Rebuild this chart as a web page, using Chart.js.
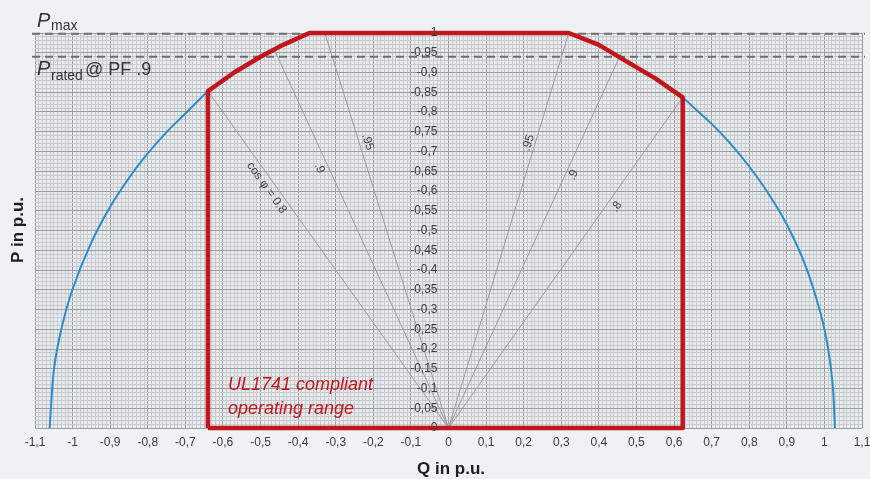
<!DOCTYPE html>
<html>
<head>
<meta charset="utf-8">
<script src="https://cdn.jsdelivr.net/npm/chart.js@4/dist/chart.umd.min.js"></script>
<style>
  html, body { margin: 0; padding: 0; background: #eef2f5; }
  #wrap { width: 870px; height: 479px; position: relative; }
</style>
</head>
<body>
<div id="wrap"><canvas id="pq"></canvas></div>
<script>
// --- tick labels ---
const xTickValues = [-1.1, -1, -0.9, -0.8, -0.7, -0.6, -0.5, -0.4, -0.3, -0.2, -0.1, 0, 0.1, 0.2, 0.3, 0.4, 0.5, 0.6, 0.7, 0.8, 0.9, 1, 1.1];
const xTickLabels = ['-1,1', '-1', '-0,9', '-0,8', '-0,7', '-0,6', '-0,5', '-0,4', '-0,3', '-0,2', '-0,1', '0', '0,1', '0,2', '0,3', '0,4', '0,5', '0,6', '0,7', '0,8', '0,9', '1', '1,1'];
const yTickValues = [0, 0.05, 0.1, 0.15, 0.2, 0.25, 0.3, 0.35, 0.4, 0.45, 0.5, 0.55, 0.6, 0.65, 0.7, 0.75, 0.8, 0.85, 0.9, 0.95, 1];
const yTickLabels = ['0', '-0,05', '-0,1', '-0,15', '-0,2', '-0,25', '-0,3', '-0,35', '-0,4', '-0,45', '-0,5', '-0,55', '-0,6', '-0,65', '-0,7', '-0,75', '-0,8', '-0,85', '-0,9', '-0,95', '1'];

// --- apparent power circle (blue) ---
const arcLeftQ = [-1.061, -1.05, -1.03, -1.0, -0.95, -0.9, -0.85, -0.8, -0.75, -0.7, -0.64];
const arcLeftP = [0, 0.145, 0.25, 0.352, 0.47, 0.56, 0.633, 0.695, 0.749, 0.796, 0.853];
const arcRightQ = [0.623, 0.7, 0.75, 0.8, 0.85, 0.9, 0.95, 0.99, 1.01, 1.022, 1.028];
const arcRightP = [0.837, 0.77, 0.72, 0.662, 0.595, 0.515, 0.41, 0.29, 0.2, 0.11, 0];

// --- UL1741 operating range (red) ---
const rangeQ = [-0.64, -0.64, -0.57, -0.5, -0.44, -0.37, 0.32, 0.4, 0.47, 0.55, 0.623, 0.623, -0.64];
const rangeP = [0, 0.853, 0.9, 0.94, 0.97, 1.0, 1.0, 0.97, 0.93, 0.885, 0.837, 0, 0];

// --- power factor lines, from origin to end point ---
const pfLabels = ['cos φ = 0.8', '.9', '.95', '.95', '.9', '.8'];
const pfEndQ = [-0.64, -0.462, -0.329, 0.32, 0.46, 0.623];
const pfEndP = [0.853, 0.955, 1.0, 1.0, 0.95, 0.837];
const pfLabelQ = [-0.484, -0.343, -0.215, 0.213, 0.332, 0.447];
const pfLabelP = [0.608, 0.658, 0.724, 0.722, 0.641, 0.56];

// --- horizontal limits ---
const pMax = 0.998;
const pRated = 0.94;
const limitQ = [-1.108, 1.108];

const toPts = (qs, ps) => qs.map((q, i) => ({x: q, y: ps[i]}));

const datasets = [];
datasets.push({
    data: toPts(limitQ, [pMax, pMax]),
    borderColor: '#6b6e70', borderWidth: 2, borderDash: [8, 5], pointRadius: 0, order: 2, clip: false
});
datasets.push({
    data: toPts(limitQ, [pRated, pRated]),
    borderColor: '#6b6e70', borderWidth: 2, borderDash: [8, 5], pointRadius: 0, order: 2, clip: false
});
pfEndQ.forEach((q, i) => {
    datasets.push({
        data: toPts([0, q], [0, pfEndP[i]]),
        borderColor: '#9a9c9e', borderWidth: 1, pointRadius: 0, order: 4
    });
});
datasets.push({
    data: toPts(arcLeftQ, arcLeftP),
    borderColor: '#2b8ccc', borderWidth: 2, pointRadius: 0, tension: 0.3, order: 3
});
datasets.push({
    data: toPts(arcRightQ, arcRightP),
    borderColor: '#2b8ccc', borderWidth: 2, pointRadius: 0, tension: 0.3, order: 3
});
datasets.push({
    data: toPts(rangeQ, rangeP),
    borderColor: '#c3161c', borderWidth: 4.5, pointRadius: 0, tension: 0,
    borderJoinStyle: 'round', order: 1, clip: false
});

const isMajor = (v, step) => Math.abs(Math.round(v * 100) % Math.round(step * 100)) === 0;

const plotBg = {
    id: 'plotBg',
    beforeDraw(chart) {
        const {ctx, chartArea: a} = chart;
        ctx.save();
        ctx.fillStyle = '#e8ebee';
        ctx.fillRect(a.left, a.top, a.right - a.left, a.bottom - a.top);
        ctx.restore();
    }
};

const texts = {
    id: 'texts',
    afterDatasetsDraw(chart) {
        const {ctx, scales: {x, y}} = chart;
        ctx.save();
        // tick labels
        ctx.fillStyle = '#3c3c3c';
        ctx.font = '12px "Liberation Sans", Arial, sans-serif';
        ctx.textAlign = 'center';
        ctx.textBaseline = 'middle';
        xTickValues.forEach((v, i) => ctx.fillText(xTickLabels[i], x.getPixelForValue(v), 443));
        ctx.textAlign = 'right';
        const x0 = x.getPixelForValue(0);
        yTickValues.forEach((v, i) => ctx.fillText(yTickLabels[i], x0 - 11, y.getPixelForValue(v)));

        // power factor labels
        ctx.fillStyle = '#444';
        ctx.font = '12px "Liberation Sans", Arial, sans-serif';
        ctx.textAlign = 'center';
        pfLabels.forEach((t, i) => {
            const ox = x.getPixelForValue(0), oy = y.getPixelForValue(0);
            const ex = x.getPixelForValue(pfEndQ[i]), ey = y.getPixelForValue(pfEndP[i]);
            let dx = ex - ox, dy = ey - oy;
            if (dx < 0) { dx = -dx; dy = -dy; }
            ctx.save();
            ctx.translate(x.getPixelForValue(pfLabelQ[i]), y.getPixelForValue(pfLabelP[i]));
            ctx.rotate(Math.atan2(dy, dx));
            ctx.fillText(t, 0, 0);
            ctx.restore();
        });

        // P max / P rated
        ctx.fillStyle = '#333';
        ctx.textAlign = 'left';
        ctx.textBaseline = 'alphabetic';
        ctx.font = 'italic 20px "Liberation Sans", Arial, sans-serif';
        ctx.fillText('P', 37, 27);
        ctx.font = '14px "Liberation Sans", Arial, sans-serif';
        ctx.fillText('max', 51, 30);
        ctx.font = 'italic 20px "Liberation Sans", Arial, sans-serif';
        ctx.fillText('P', 37, 75);
        ctx.font = '14px "Liberation Sans", Arial, sans-serif';
        ctx.fillText('rated', 51, 80);
        ctx.font = '18px "Liberation Sans", Arial, sans-serif';
        ctx.fillText('@ PF .9', 85, 75);

        // operating range note
        ctx.fillStyle = '#c3161c';
        ctx.font = 'italic 18px "Liberation Sans", Arial, sans-serif';
        ctx.fillText('UL1741 compliant', 228, 390);
        ctx.fillText('operating range', 228, 414);

        // axis titles
        ctx.fillStyle = '#1e1e1e';
        ctx.font = 'bold 17px "Liberation Sans", Arial, sans-serif';
        ctx.textAlign = 'center';
        ctx.textBaseline = 'middle';
        ctx.fillText('Q in p.u.', 451, 469);
        ctx.save();
        ctx.translate(18, 230);
        ctx.rotate(-Math.PI / 2);
        ctx.fillText('P in p.u.', 0, 0);
        ctx.restore();
        ctx.restore();
    }
};

new Chart(document.getElementById('pq'), {
    type: 'scatter',
    data: { datasets: datasets },
    options: {
        responsive: true,
        maintainAspectRatio: false,
        animation: false,
        showLine: true,
        layout: { padding: { left: 35, right: 8, top: 33, bottom: 51 } },
        plugins: { legend: { display: false }, tooltip: { enabled: false } },
        scales: {
            x: {
                type: 'linear', min: -1.1, max: 1.1,
                ticks: { stepSize: 0.01, display: false },
                border: { display: false },
                grid: {
                    drawTicks: false,
                    color: c => isMajor(c.tick.value, 0.1) ? '#9b9ea1' : '#c8cbce',
                    lineWidth: 1
                }
            },
            y: {
                type: 'linear', min: 0, max: 1,
                ticks: { stepSize: 0.01, display: false },
                border: { display: false },
                grid: {
                    drawTicks: false,
                    color: c => isMajor(c.tick.value, 0.05) ? '#9b9ea1' : '#c8cbce',
                    lineWidth: 1
                }
            }
        }
    },
    plugins: [plotBg, texts]
});
</script>
</body>
</html>
